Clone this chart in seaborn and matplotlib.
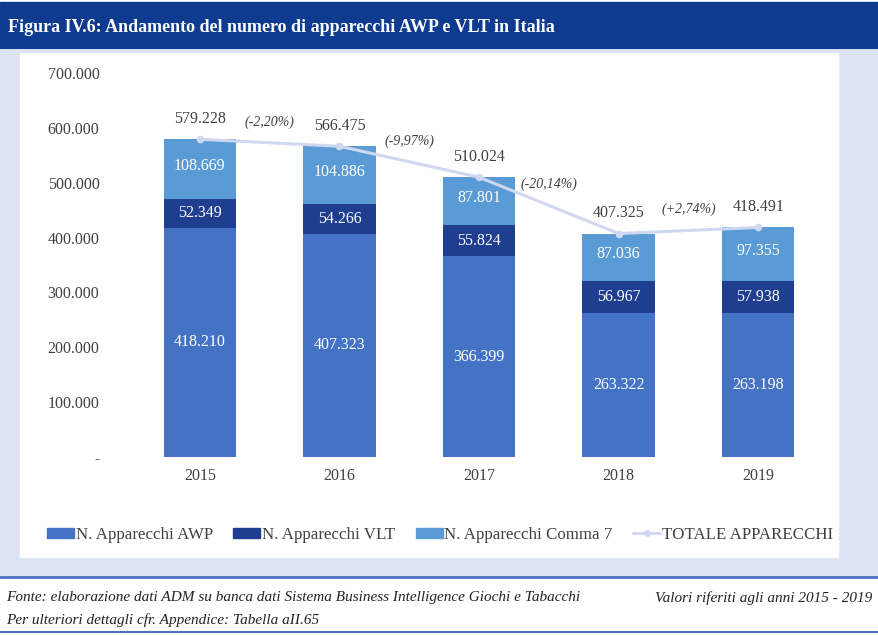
import numpy as np
import pandas as pd
import matplotlib
matplotlib.use("Agg")
import matplotlib.pyplot as plt
from matplotlib.patches import Rectangle, Patch
from matplotlib.lines import Line2D
import seaborn as sns

# data
years = ["2015", "2016", "2017", "2018", "2019"]
awp = [418210, 407323, 366399, 263322, 263198]
vlt = [52349, 54266, 55824, 56967, 57938]
comma7 = [108669, 104886, 87801, 87036, 97355]
totals = [579228, 566475, 510024, 407325, 418491]
changes = ["(-2,20%)", "(-9,97%)", "(-20,14%)", "(+2,74%)"]
yticks = [0, 100000, 200000, 300000, 400000, 500000, 600000, 700000]

c_awp = "#4472c4"
c_vlt = "#1f3e8f"
c_c7 = "#5b9bd5"
c_line = "#cfd8f0"
c_banner = "#0e3b8f"
c_panel = "#dce4f3"

sns.set_theme(style="white")
plt.rcParams["font.family"] = ["Liberation Serif", "DejaVu Serif"]

W, H = 879, 636
fig = plt.figure(figsize=(W / 100, H / 100), dpi=100)

def px(x0, y0, w, h):
    # pixel box (top-left origin) -> figure fraction
    return [x0 / W, 1 - (y0 + h) / H, w / W, h / H]

# background panels
bg = fig.add_axes([0, 0, 1, 1])
bg.set_xlim(0, W)
bg.set_ylim(H, 0)
bg.axis("off")
bg.add_patch(Rectangle((0, 2), W, 46, color=c_banner))
bg.add_patch(Rectangle((0, 50), W, 525, color=c_panel))
bg.add_patch(Rectangle((20, 53), 818, 504, color="white"))
bg.plot([0, W], [577, 577], color="#4a72c0", lw=2)
bg.plot([0, W], [632, 632], color="#4a72c0", lw=1.5)
bg.text(8, 27, "Figura IV.6: Andamento del numero di apparecchi AWP e VLT in Italia",
        color="white", fontsize=13, fontweight="bold", va="center")
bg.text(6, 598, "Fonte: elaborazione dati ADM su banca dati Sistema Business Intelligence Giochi e Tabacchi",
        fontsize=11, style="italic", va="center", color="#222222")
bg.text(6, 620, "Per ulteriori dettagli cfr. Appendice: Tabella aII.65",
        fontsize=11, style="italic", va="center", color="#222222")
bg.text(872, 598, "Valori riferiti agli anni 2015 - 2019", fontsize=11, style="italic",
        va="center", ha="right", color="#222222")

# chart
ax = fig.add_axes(px(130, 73, 698, 384))
df = pd.DataFrame({"year": years, "awp": awp, "vlt": vlt, "c7": comma7, "tot": totals})
df["awp_vlt"] = df["awp"] + df["vlt"]

for col, c in [("tot", c_c7), ("awp_vlt", c_vlt), ("awp", c_awp)]:
    sns.barplot(data=df, x="year", y=col, color=c, width=0.52, ax=ax,
                saturation=1, linewidth=0, edgecolor=c)
ax.plot(range(len(years)), totals, color=c_line, lw=2.2, marker="o", ms=4.5, zorder=5)

ax.set_ylim(0, 700000)
ax.set_xlim(-0.5, 4.5)
ax.set_yticks(yticks)
ax.set_yticklabels(["-"] + [f"{v:,}".replace(",", ".") for v in yticks[1:]],
                   fontsize=11.5, color="#404040")
ax.tick_params(axis="y", pad=22, length=0)
ax.tick_params(axis="x", labelsize=11.5, labelcolor="#404040", length=0, pad=8)
ax.set_xlabel("")
ax.set_ylabel("")
sns.despine(ax=ax, left=True, bottom=True)
ax.patch.set_alpha(0)

fmt = lambda v: f"{v:,}".replace(",", ".")
for i in range(len(years)):
    ax.text(i, awp[i] / 2, fmt(awp[i]), ha="center", va="center", color="white", fontsize=11.5)
    ax.text(i, awp[i] + vlt[i] / 2, fmt(vlt[i]), ha="center", va="center", color="white", fontsize=11.5)
    ax.text(i, awp[i] + vlt[i] + comma7[i] / 2 + 6000, fmt(comma7[i]), ha="center", va="center",
            color="white", fontsize=11.5)
    ax.text(i, totals[i] + 22000, fmt(totals[i]), ha="center", va="bottom", color="#404040", fontsize=11.5)
for i, ch in enumerate(changes):
    ymid = (totals[i] + totals[i + 1]) / 2
    ax.text(i + 0.5, ymid + 38000, ch, ha="center", va="center", style="italic",
            color="#404040", fontsize=10)

handles = [Patch(color=c_awp), Patch(color=c_vlt), Patch(color=c_c7),
           Line2D([0], [0], color=c_line, lw=2, marker="o", ms=4)]
labels = ["N. Apparecchi AWP", "N. Apparecchi VLT", "N. Apparecchi Comma 7", "TOTALE APPARECCHI"]
fig.legend(handles, labels, loc="center", bbox_to_anchor=(440 / W, 1 - 535 / H), ncol=4,
           frameon=False, fontsize=12.2, handlelength=1.6, handleheight=0.6, handletextpad=0.1,
           columnspacing=1.2, labelcolor="#404040")

fig.savefig("out.png", dpi=100)
